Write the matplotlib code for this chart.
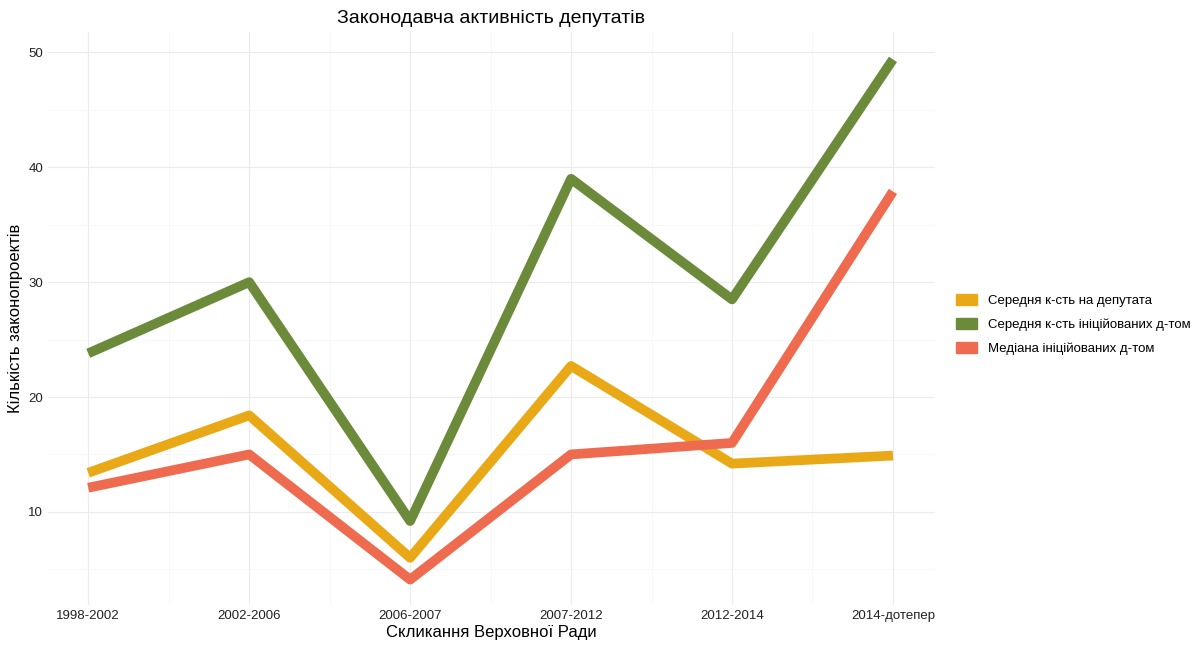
import numpy as np
import matplotlib
matplotlib.use('Agg')
from matplotlib import pyplot as plt
from matplotlib.patches import Patch

periods = ['1998-2002', '2002-2006', '2006-2007', '2007-2012', '2012-2014', '2014-дотепер']
mean_per_deputy = [13.4, 18.4, 6.0, 22.7, 14.2, 14.9]
mean_initiated = [23.8, 30.0, 9.2, 39.0, 28.5, 49.4]
median_initiated = [12.1, 15.0, 4.1, 15.0, 16.0, 37.9]

labels = ['Середня к-сть на депутата', 'Середня к-сть ініційованих д-том', 'Медіана ініційованих д-том']
colors = ['#E9A917', '#6B8A3A', '#EE6B4F']

plt.rcParams['font.family'] = ['Liberation Sans', 'DejaVu Sans']

fig = plt.figure(dpi=100, figsize=(12, 6.49))
ax = fig.add_axes([0.04, 0.068, 0.739, 0.883])
x = np.arange(len(periods))
for vals, c in zip([mean_per_deputy, mean_initiated, median_initiated], colors):
    ax.plot(x, vals, color=c, lw=7, solid_capstyle='butt')

ax.set_xlim(-0.25, 5.26)
ax.set_ylim(1.9, 51.8)
ax.set_xticks(x)
ax.set_xticklabels(periods)
ax.set_yticks([10, 20, 30, 40, 50])
ax.set_xticks(x[:-1] + 0.5, minor=True)
ax.set_yticks([5, 15, 25, 35, 45], minor=True)
ax.grid(True, which='major', color='#EBEBEB', lw=0.8)
ax.grid(True, which='minor', color='#F4F4F4', lw=0.5)
for s in ax.spines.values():
    s.set_visible(False)
ax.tick_params(axis='both', which='both', length=0, labelsize=9.5, colors='#222222')

ax.set_title('Законодавча активність депутатів', fontsize=14)
ax.set_xlabel('Скликання Верховної Ради', fontsize=12, labelpad=2)
ax.set_ylabel('Кількість законопроектів', fontsize=12)

handles = [Patch(color=c, label=l) for c, l in zip(colors, labels)]
fig.legend(handles=handles, loc='center left', bbox_to_anchor=(0.787, 0.5), frameon=False,
           fontsize=9.5, handlelength=1.6, handleheight=0.9, labelspacing=0.8)

fig.savefig('out.png')
